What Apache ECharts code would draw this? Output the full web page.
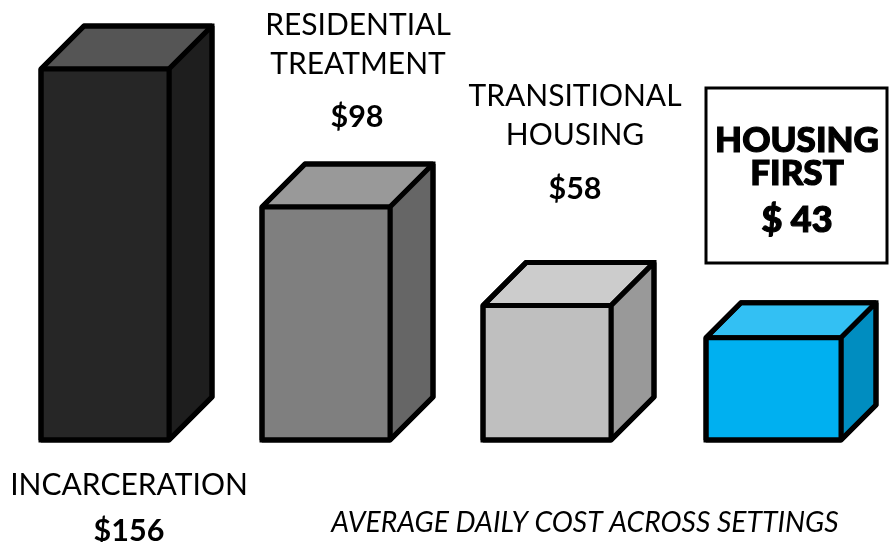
<!DOCTYPE html>
<html>
<head>
<meta charset="utf-8">
<style>
  html, body { margin: 0; padding: 0; background: #fff; }
  #chart { width: 892px; height: 542px; }
</style>
<script src="https://cdn.jsdelivr.net/npm/echarts@6/dist/echarts.min.js"></script>
</head>
<body>
<div id="chart"></div>
<script>
const categories = ['INCARCERATION', 'RESIDENTIAL\nTREATMENT', 'TRANSITIONAL\nHOUSING', 'HOUSING\nFIRST']
const costLabels = ['$156', '$98', '$58', '$ 43']
// bar heights as drawn in the picture
const barHeights = [156, 98, 56.5, 43]

const frontColors = ['#262626', '#7f7f7f', '#bfbfbf', '#00b0f0']
const topColors = ['#555555', '#999999', '#cccccc', '#33c0f3']
const sideColors = ['#1e1e1e', '#666666', '#999999', '#008dc0']
const frontWidths = [128, 128, 128, 135]
const depths = [43, 43, 43, 35]
const xOffsets = [0, 0, 0, 5.5]

const sansFont = 'Lato'
const stroke = { stroke: '#000', lineWidth: 5, lineJoin: 'bevel' }

function renderBox(params, api) {
  const ii = params.dataIndex
  const [cx, top] = api.coord([ii, api.value(1)])
  const [, base] = api.coord([ii, 0])
  const left = cx + xOffsets[ii] - frontWidths[ii] / 2
  const right = left + frontWidths[ii]
  const dd = depths[ii]
  const face = (points, fill) => ({
    type: 'polygon',
    shape: { points },
    style: { fill, ...stroke },
  })
  // outline goes on top so the outer corners stay square without spikes from the faces
  const outline = [
    [left, top], [left + dd, top - dd], [right + dd, top - dd],
    [right + dd, base - dd], [right, base], [left, base],
  ]
  return {
    type: 'group',
    children: [
      face([[left, top], [left + dd, top - dd], [right + dd, top - dd], [right, top]], topColors[ii]),
      face([[right, top], [right + dd, top - dd], [right + dd, base - dd], [right, base]], sideColors[ii]),
      face([[left, top], [right, top], [right, base], [left, base]], frontColors[ii]),
      {
        type: 'polygon',
        shape: { points: outline },
        style: { fill: 'none', stroke: '#000', lineWidth: 5, lineJoin: 'miter' },
      },
    ],
  }
}

function label(text, x, y, size, weight) {
  return {
    type: 'text',
    x,
    y,
    style: {
      text,
      fill: '#000',
      align: 'center',
      verticalAlign: 'middle',
      fontFamily: sansFont,
      fontSize: size,
      fontWeight: weight,
      lineHeight: 39,
    },
  }
}

// the boxed labels are heavier than Lato black, so thicken them with a thin stroke
function heavyLabel(text, x, y, size, lineHeight) {
  const el = label(text, x, y, size, 900)
  el.style.lineHeight = lineHeight
  el.style.stroke = '#000'
  el.style.lineWidth = 1.2
  return el
}

const chart = echarts.init(document.getElementById('chart'))
chart.setOption({
  animation: false,
  backgroundColor: '#fff',
  title: {
    text: 'AVERAGE DAILY COST ACROSS SETTINGS',
    left: 580,
    top: 504,
    textAlign: 'center',
    textStyle: { fontFamily: sansFont, fontSize: 28.3, fontWeight: 400, fontStyle: 'italic', color: '#000' },
  },
  grid: { left: 105, width: 663, top: 0, bottom: 102 },
  xAxis: { type: 'category', data: categories, boundaryGap: false, show: false },
  yAxis: { type: 'value', min: 0, max: 185, show: false },
  series: [{
    type: 'custom',
    data: barHeights.map((val, ii) => [ii, val]),
    renderItem: renderBox,
    clip: false,
  }],
  graphic: [
    { type: 'rect', shape: { x: 706, y: 88, width: 181, height: 175 }, style: { fill: '#fff', stroke: '#000', lineWidth: 3 } },
    label(categories[0], 129, 485, 30, 400),
    label(costLabels[0], 129, 531, 30.5, 700),
    label(categories[1], 358, 45, 30, 400),
    label(costLabels[1], 357, 117, 30.5, 700),
    label(categories[2], 575, 116, 30, 400),
    label(costLabels[2], 575, 189, 30.5, 700),
    heavyLabel(categories[3], 797, 157, 35, 33),
    heavyLabel(costLabels[3], 797, 220, 36, 39),
  ],
})
</script>
</body>
</html>
